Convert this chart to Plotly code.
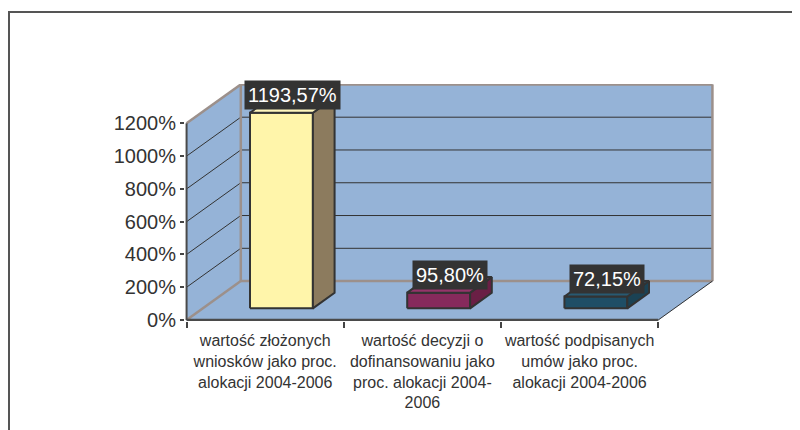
import plotly.graph_objects as go

# ---------------- data ----------------
categories = [
    "wartość złożonych<br>wniosków jako proc.<br>alokacji 2004-2006",
    "wartość decyzji o<br>dofinansowaniu jako<br>proc. alokacji 2004-<br>2006",
    "wartość podpisanych<br>umów jako proc.<br>alokacji 2004-2006",
]
values = [1193.57, 95.80, 72.15]
value_labels = ["1193,57%", "95,80%", "72,15%"]
tick_values = [0, 200, 400, 600, 800, 1000, 1200]
tick_labels = ["0%", "200%", "400%", "600%", "800%", "1000%", "1200%"]

# ---------------- styles ----------------
front_colors = ["#FFF5AA", "#862A5C", "#1F4E66"]
side_colors = ["#8C7B5E", "#6A1F45", "#1B4254"]
top_colors = ["#FFF7BE", "#95356A", "#285A72"]
WALL = "#95B3D7"
WALL_EDGE = "#9C908B"
DARK = "#333333"
FONT = "Liberation Sans, Arial, Helvetica, sans-serif"

# pseudo-3D projection constants
DX, DY = 0.345, 237.5       # depth offset in (category units, % units)
D0, D1 = 0.30, 0.70         # bar front/back depth
BAR_W = 0.40
YMAX = tick_values[-1]
n = len(categories)
X0, X1 = -0.5, n - 0.5


def P(x, y, d):
    return (x + d * DX, y + d * DY)


def poly(pts, fill, line_color, width):
    xs = [p[0] for p in pts] + [pts[0][0]]
    ys = [p[1] for p in pts] + [pts[0][1]]
    return go.Scatter(x=xs, y=ys, mode="lines", fill="toself", fillcolor=fill,
                      line=dict(color=line_color, width=width),
                      hoverinfo="skip", showlegend=False)


def segs(seglist, color, width):
    xs, ys = [], []
    for a, b in seglist:
        xs += [a[0], b[0], None]
        ys += [a[1], b[1], None]
    return go.Scatter(x=xs, y=ys, mode="lines", line=dict(color=color, width=width),
                      hoverinfo="skip", showlegend=False)


fig = go.Figure()

# walls and floor
fig.add_trace(poly([P(X0, 0, 0), P(X0, YMAX, 0), P(X0, YMAX, 1), P(X0, 0, 1)], WALL, WALL, 0.5))
fig.add_trace(poly([P(X0, 0, 0), P(X1, 0, 0), P(X1, 0, 1), P(X0, 0, 1)], WALL, WALL, 0.5))
fig.add_trace(poly([P(X0, 0, 1), P(X1, 0, 1), P(X1, YMAX, 1), P(X0, YMAX, 1)], WALL, WALL, 0.5))

# gridlines
grid = []
for v in tick_values[1:-1]:
    grid.append((P(X0, v, 0), P(X0, v, 1)))
    grid.append((P(X0, v, 1), P(X1, v, 1)))
fig.add_trace(segs(grid, DARK, 1))

# wall edges
fig.add_trace(segs([
    (P(X0, 0, 1), P(X1, 0, 1)),
    (P(X1, 0, 1), P(X1, YMAX, 1)),
    (P(X1, YMAX, 1), P(X0, YMAX, 1)),
    (P(X0, YMAX, 1), P(X0, 0, 1)),
    (P(X0, YMAX, 0), P(X0, YMAX, 1)),
    (P(X0, 0, 0), P(X0, 0, 1)),
], WALL_EDGE, 2.5))
fig.add_trace(segs([(P(X1, 0, 0), P(X1, 0, 1))], DARK, 1))
fig.add_trace(segs([(P(X0, 0, 0), P(X1, 0, 0))], "#4a4a4a", 2.5))
fig.add_trace(segs([(P(X0, 0, 0), P(X0, YMAX, 0))], "#4a4a4a", 2))

# bars
for i, v in enumerate(values):
    l, r = i - BAR_W / 2, i + BAR_W / 2
    fig.add_trace(poly([P(l, 0, D0), P(r, 0, D0), P(r, v, D0), P(l, v, D0)],
                       front_colors[i], DARK, 2))
    fig.add_trace(poly([P(r, 0, D0), P(r, 0, D1), P(r, v, D1), P(r, v, D0)],
                       side_colors[i], DARK, 2))
    fig.add_trace(poly([P(l, v, D0), P(r, v, D0), P(r, v, D1), P(l, v, D1)],
                       top_colors[i], DARK, 2))
    cx, cy = P(i, v, (D0 + D1) / 2)
    fig.add_annotation(x=cx, y=cy, text=value_labels[i], showarrow=False,
                       yshift=10, bgcolor="#333333", borderpad=3,
                       font=dict(family=FONT, size=20, color="white"))

# helper trace for the tick-mark axis
fig.add_trace(go.Scatter(x=[0], y=[0], xaxis="x2", mode="markers",
                         marker=dict(opacity=0), hoverinfo="skip", showlegend=False))

xr = [X0 - 0.01, X1 + DX + 0.01]
fig.update_layout(
    width=792, height=422,
    margin=dict(l=177, r=86, t=76, b=109),
    paper_bgcolor="white", plot_bgcolor="white",
    font=dict(family=FONT, color="#333333"),
    showlegend=False,
    xaxis=dict(range=xr, tickmode="array", tickvals=list(range(n)), ticktext=categories,
               ticks="", showgrid=False, zeroline=False, showline=False,
               tickfont=dict(size=16, color="#333333"), ticklabelstandoff=8),
    xaxis2=dict(range=xr, overlaying="x", anchor="y", side="bottom",
                tickmode="array", tickvals=[X0 + k for k in range(n + 1)],
                ticks="outside", ticklen=6, tickcolor="#444444", tickwidth=1.5,
                showticklabels=False, showgrid=False, zeroline=False, showline=False),
    yaxis=dict(range=[-6, 1440], tickmode="array", tickvals=tick_values, ticktext=tick_labels,
               ticks="outside", ticklen=4, tickcolor="#444444", tickwidth=1.5,
               showgrid=False, zeroline=False, showline=False,
               tickfont=dict(size=20, color="#333333")),
    shapes=[dict(type="path", xref="paper", yref="paper",
                 path="M -0.3327,-0.6 L -0.3327,1.3038 L 1.3,1.3038",
                 line=dict(color="#555555", width=2))],
)

fig.write_html("out.html")
